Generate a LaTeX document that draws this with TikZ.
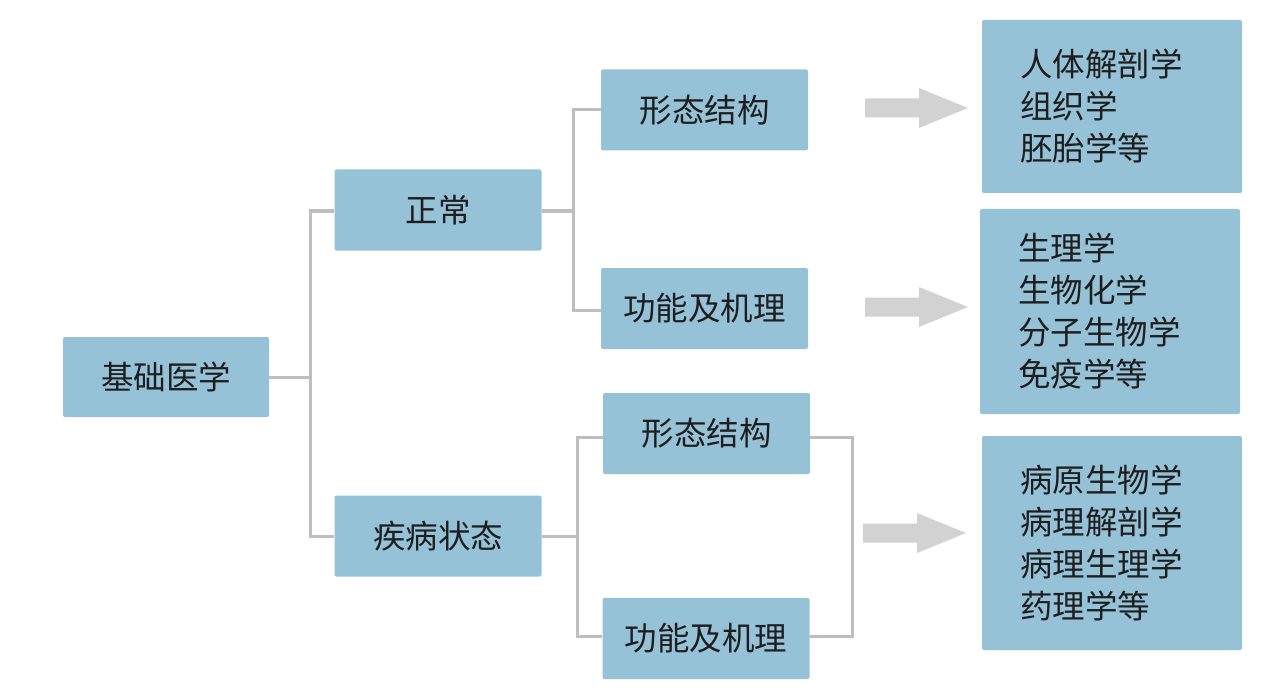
\documentclass[tikz,border=0pt]{standalone}
\usepackage{fontspec}
\newfontfamily\cjk{Noto Sans CJK SC}
\definecolor{boxblue}{HTML}{96C2D8}
\definecolor{linegray}{HTML}{BEBEBE}
\definecolor{arrowgray}{HTML}{D2D2D2}
\definecolor{textc}{HTML}{1E1E1E}
\begin{document}
\begin{tikzpicture}[x=1pt,y=-1pt,
  box/.style={fill=boxblue, rounded corners=2pt, inner sep=0pt, text=textc,
    font=\cjk\fontsize{32.5}{42}\selectfont, minimum width=207pt, minimum height=81pt},
  listbox/.style={fill=boxblue, rounded corners=2pt, inner xsep=38pt, inner ysep=0pt, text=textc,
    font=\cjk\fontsize{32.5}{42}\selectfont, minimum width=260pt, text width=184pt, align=left},
  conn/.style={draw=linegray, line width=3pt},
  bigarrow/.style={fill=arrowgray}
]
\useasboundingbox (0,0) rectangle (1279,695);
\fill[white] (0,0) rectangle (1279,695);

\node[box, minimum width=206pt, minimum height=80pt] (root) at (166,377) {基础医学};
\node[box] (norm) at (438,210) {正常};
\node[box] (dis) at (438,536) {疾病状态};
\node[box] (nm) at (704.5,110) {形态结构};
\node[box] (nf) at (704.5,308.5) {功能及机理};
\node[box] (dm) at (706.5,433.5) {形态结构};
\node[box] (df) at (706,638.5) {功能及机理};

\node[listbox, minimum height=173pt] (r1) at (1112,106.5) {人体解剖学\\组织学\\胚胎学等};
\node[listbox, minimum height=205pt] (r2) at (1110,311.5) {生理学\\生物化学\\分子生物学\\免疫学等};
\node[listbox, minimum height=214pt] (r3) at (1112,543) {病原生物学\\病理解剖学\\病理生理学\\药理学等};

% junctions
\coordinate (j1) at (310,377);
\coordinate (j2) at (573,211);
\coordinate (j3) at (577,536);
\coordinate (j4) at (852,535);

\draw[conn] (root.east) -- (j1);
\draw[conn] (j1) |- ([yshift=-1pt]norm.west);
\draw[conn] (j1) |- (dis.west);

\draw[conn] ([yshift=-1pt]norm.east) -- (j2);
\draw[conn] (j2) |- (nm.west);
\draw[conn] (j2) |- ([yshift=-1.5pt]nf.west);

\draw[conn] (dis.east) -- (j3);
\draw[conn] (j3) |- ([yshift=-3.5pt]dm.west);
\draw[conn] (j3) |- ([yshift=2.5pt]df.west);

\draw[conn] ([yshift=-3.5pt]dm.east) -| (j4) |- ([yshift=2.5pt]df.east);

% block arrows
\foreach \ax/\ay in {865/108, 865/307, 863/533}{
  \fill[bigarrow] (\ax,\ay-9.5) -- (\ax+54,\ay-9.5) -- (\ax+54,\ay-20) -- (\ax+103,\ay)
    -- (\ax+54,\ay+20) -- (\ax+54,\ay+9.5) -- (\ax,\ay+9.5) -- cycle;
}
\end{tikzpicture}
\end{document}
